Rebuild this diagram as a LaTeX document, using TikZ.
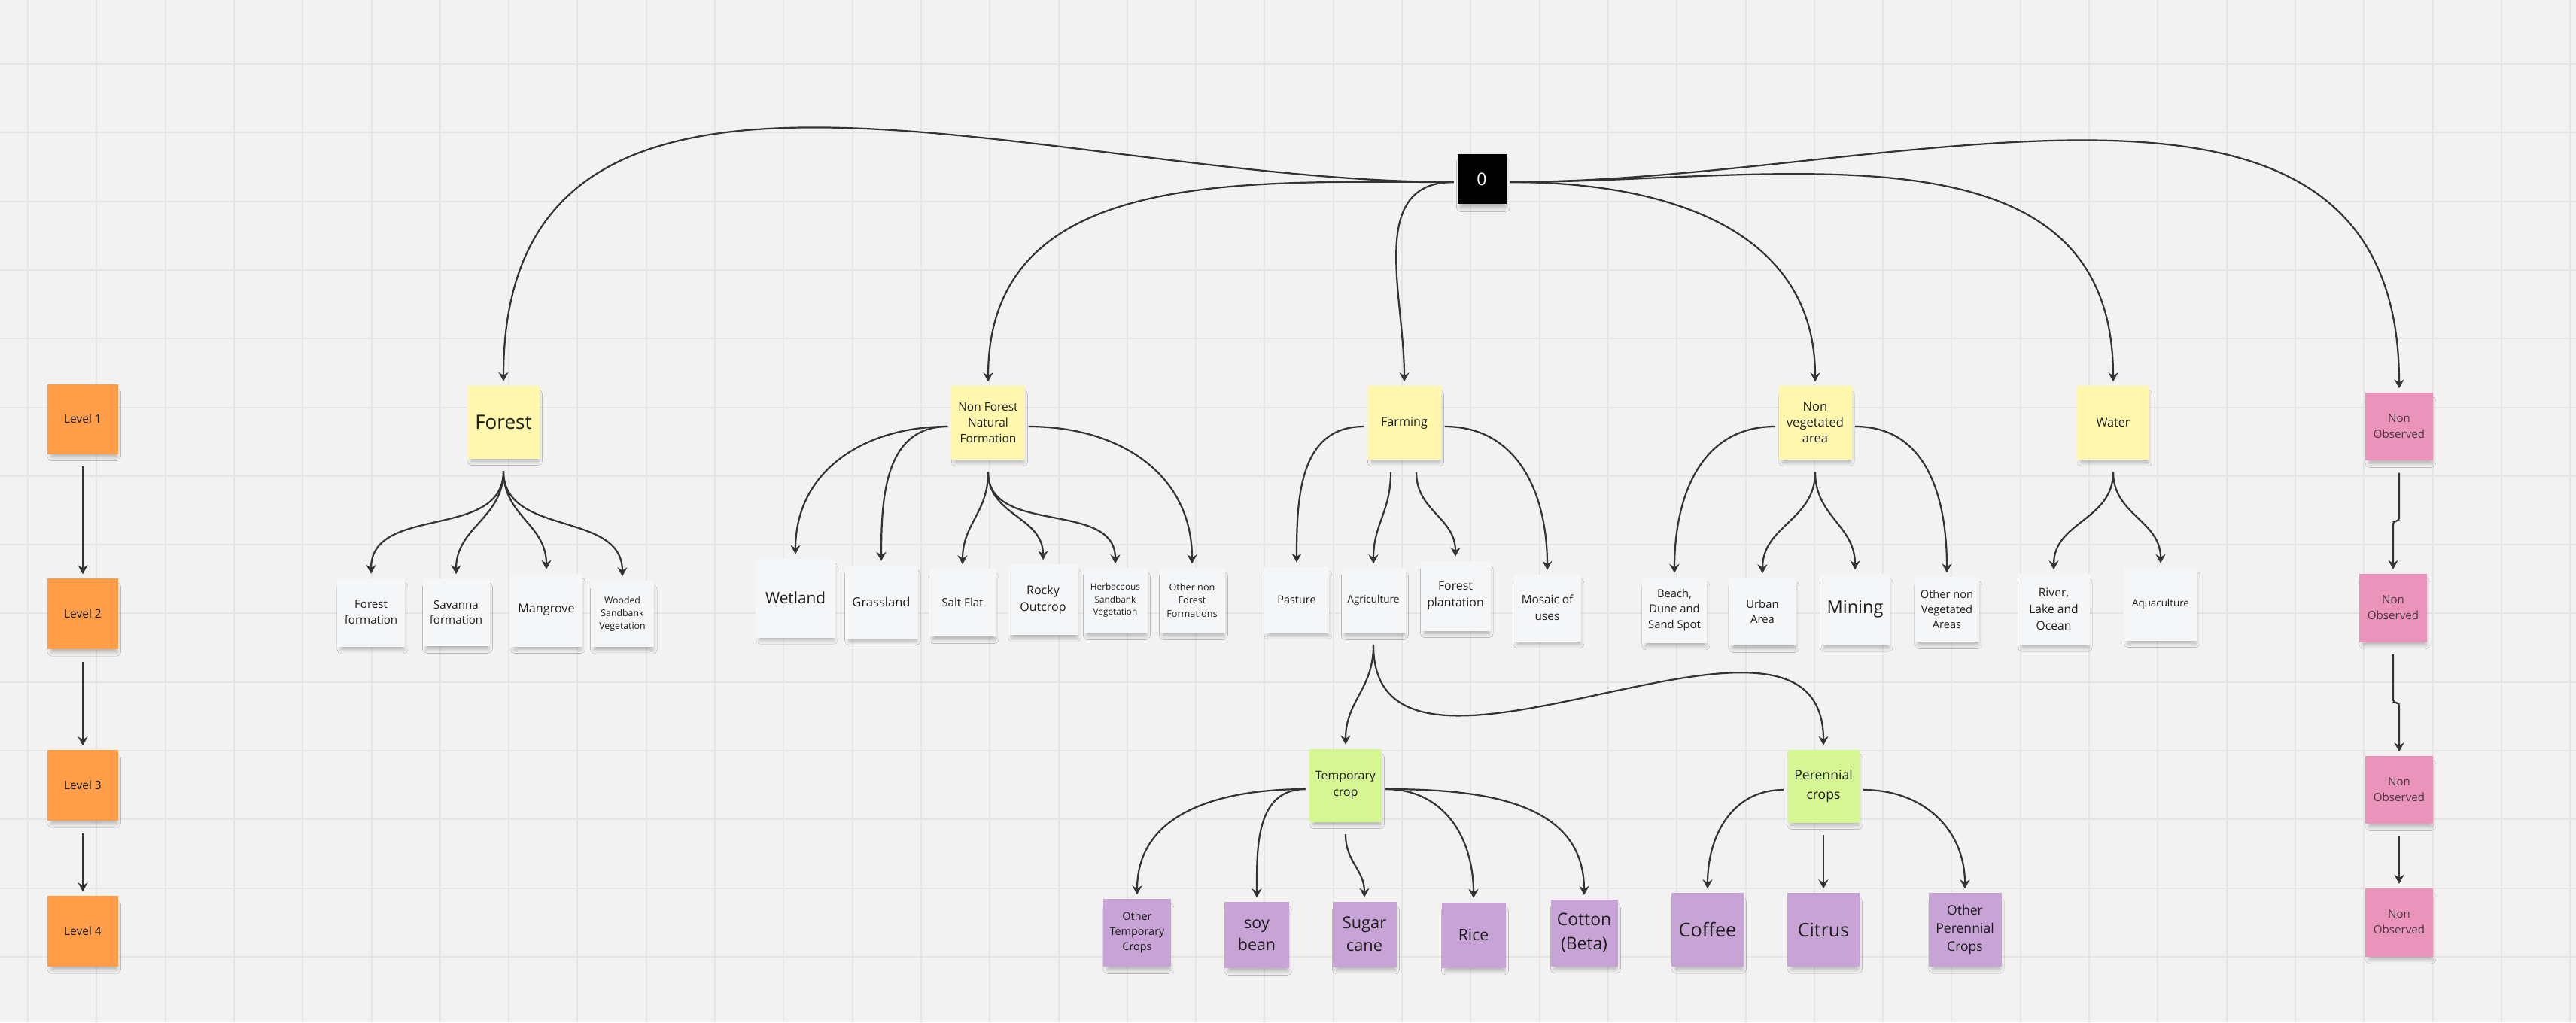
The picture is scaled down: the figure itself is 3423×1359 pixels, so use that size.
\documentclass[tikz,border=0pt]{standalone}
\usepackage{fontspec}
\setmainfont{Open Sans}
\usetikzlibrary{arrows.meta,calc,shadows.blur}

\definecolor{bg}{HTML}{F2F2F2}
\definecolor{gridc}{HTML}{E5E5E5}
\definecolor{orangeN}{HTML}{FF9D48}
\definecolor{yellowN}{HTML}{FFF7AE}
\definecolor{whiteN}{HTML}{F5F6F8}
\definecolor{greenN}{HTML}{D5F692}
\definecolor{violetN}{HTML}{C8A4D6}
\definecolor{pinkN}{HTML}{EA94BB}
\definecolor{ink}{HTML}{1E1E1E}
\definecolor{pinkink}{HTML}{4A3845}
\definecolor{wirec}{HTML}{333333}

% curved connectors: leave downwards / leftwards / rightwards, arrive from above
\newcommand\dn[3]{\draw[link] #1 .. controls +(0,#3) and +(0,-#3) .. #2;}
\newcommand\lf[3]{\draw[link] #1 .. controls +(-#3,0) and +(0,-#3) .. #2;}
\newcommand\rt[3]{\draw[link] #1 .. controls +(#3,0) and +(0,-#3) .. #2;}

\begin{document}
\begin{tikzpicture}[x=0.01cm,y=-0.01cm,
  note/.style 2 args={rectangle, inner sep=0pt, align=center, text=ink,
    minimum width=#1*0.01cm, minimum height=#2*0.01cm,
    blur shadow={shadow xshift=0.02cm, shadow yshift=-0.08cm,
      shadow blur radius=0.06cm, shadow opacity=28, shadow scale=0.92}},
  fz/.style 2 args={font=\fontsize{#1pt}{#2pt}\selectfont},
  lvl/.style={fill=orangeN},
  top/.style={fill=yellowN},
  sub/.style={fill=whiteN},
  crop/.style={fill=greenN},
  leaf/.style={fill=violetN},
  nobs/.style={fill=pinkN, text=pinkink},
  link/.style={draw=wirec, line width=0.022cm,
    -{Stealth[length=0.12cm, width=0.13cm, inset=0.04cm]}},
]
% canvas and grid
\fill[bg] (0,0) rectangle (3423,1359);
\useasboundingbox (0,0) rectangle (3423,1359);
\foreach \i in {0,...,37}
  \draw[gridc, line width=0.02cm] ({37+91.3*\i},0) -- ({37+91.3*\i},1359);
\foreach \j in {0,...,14}
  \draw[gridc, line width=0.02cm] (0,{85+91.3*\j}) -- (3423,{85+91.3*\j});

% level legend
\node[note={94}{93}, lvl, fz={4.4}{6}] (lv1) at (110,557) {Level 1};
\node[note={94}{94}, lvl, fz={4.4}{6}] (lv2) at (110,816) {Level 2};
\node[note={94}{94}, lvl, fz={4.4}{6}] (lv3) at (110,1044) {Level 3};
\node[note={94}{94}, lvl, fz={4.4}{6}] (lv4) at (110,1238) {Level 4};

% root
\node[note={65}{66}, fill=black, text=white, fz={6.5}{8}] (root) at (1969,238) {0};

% level 1
\node[note={96}{97}, top, fz={7.4}{9}] (forest) at (669,561) {Forest};
\node[note={98}{98}, top, fz={4.4}{6}] (nfnf) at (1313,562) {Non Forest\\Natural\\Formation};
\node[note={98}{98}, top, fz={4.6}{6}] (farm) at (1866,562) {Farming};
\node[note={97}{98}, top, fz={4.7}{6}] (nveg) at (2412,562) {Non\\vegetated\\area};
\node[note={96}{98}, top, fz={4.6}{6}] (water) at (2808,562) {Water};
\node[note={90}{90}, nobs, fz={4.3}{5.9}] (no1) at (3188,567) {Non\\Observed};

% level 2
\node[note={90}{91}, sub, fz={4.3}{5.9}] (ff) at (493,814) {Forest\\formation};
\node[note={89}{90}, sub, fz={4.3}{5.9}] (sf) at (606,814) {Savanna\\formation};
\node[note={96}{97}, sub, fz={4.6}{6}] (mg) at (726,811) {Mangrove};
\node[note={84}{88}, sub, fz={3.5}{4.8}] (wsv) at (827,816) {Wooded\\Sandbank\\Vegetation};
\node[note={106}{105}, sub, fz={5.9}{7}] (wet) at (1057,795) {Wetland};
\node[note={97}{97}, sub, fz={4.7}{6}] (gra) at (1171,800) {Grassland};
\node[note={89}{90}, sub, fz={4.3}{6}] (slt) at (1279,801) {Salt Flat};
\node[note={93}{94}, sub, fz={4.55}{6.2}] (roc) at (1386,797) {Rocky\\Outcrop};
\node[note={85}{86}, sub, fz={3.35}{4.75}] (hsv) at (1482,798) {Herbaceous\\Sandbank\\Vegetation};
\node[note={87}{86}, sub, fz={3.6}{5}] (onf) at (1584,798) {Other non\\Forest\\Formations};
\node[note={86}{87}, sub, fz={4.1}{6}] (pas) at (1723,797) {Pasture};
\node[note={85}{86}, sub, fz={3.85}{6}] (agr) at (1825,798) {Agriculture};
\node[note={93}{93}, sub, fz={4.5}{6.2}] (fpl) at (1934,792) {Forest\\plantation};
\node[note={90}{89}, sub, fz={4.35}{6.3}] (mos) at (2056,808) {Mosaic of\\uses};
\node[note={86}{87}, sub, fz={4.2}{5.9}] (bch) at (2225,811) {Beach,\\Dune and\\Sand Spot};
\node[note={90}{90}, sub, fz={4.2}{5.9}] (urb) at (2342,813) {Urban\\Area};
\node[note={93}{94}, sub, fz={6.7}{8}] (min) at (2465,810) {Mining};
\node[note={86}{86}, sub, fz={4.15}{5.8}] (onv) at (2587,810) {Other non\\Vegetated\\Areas};
\node[note={95}{94}, sub, fz={4.45}{6.2}] (riv) at (2729,810) {River,\\Lake and\\Ocean};
\node[note={98}{97}, sub, fz={3.8}{6}] (aqu) at (2871,803) {Aquaculture};
\node[note={90}{91}, nobs, fz={4.3}{5.9}] (no2) at (3180,808) {Non\\Observed};

% level 3
\node[note={96}{97}, crop, fz={4.5}{6.2}] (tmp) at (1788,1044) {Temporary\\crop};
\node[note={97}{97}, crop, fz={5}{7.4}] (per) at (2423,1045) {Perennial\\crops};
\node[note={90}{90}, nobs, fz={4.3}{5.9}] (no3) at (3188,1050) {Non\\Observed};

% level 4
\node[note={90}{90}, leaf, fz={4.1}{5.7}] (otc) at (1511,1240) {Other\\Temporary\\Crops};
\node[note={86}{88}, leaf, fz={6.1}{8.25}] (soy) at (1670,1243) {soy\\bean};
\node[note={85}{87}, leaf, fz={6.2}{8.5}] (sug) at (1813,1242) {Sugar\\cane};
\node[note={85}{87}, leaf, fz={6}{8}] (ric) at (1958,1243) {Rice};
\node[note={89}{89}, leaf, fz={6.5}{9.1}] (cot) at (2105,1240) {Cotton\\(Beta)};
\node[note={96}{98}, leaf, fz={7.2}{9}] (cof) at (2269,1236) {Coffee};
\node[note={96}{98}, leaf, fz={7.1}{9}] (cit) at (2423,1236) {Citrus};
\node[note={97}{98}, leaf, fz={5}{6.8}] (opc) at (2611,1236) {Other\\Perennial\\Crops};
\node[note={90}{91}, nobs, fz={4.3}{5.9}] (no4) at (3188,1226) {Non\\Observed};

% arrow end points just above each note
\foreach \n in {lv2,lv3,lv4,forest,nfnf,farm,nveg,water,no1,no2,no3,no4,
  ff,sf,mg,wsv,wet,gra,slt,roc,hsv,onf,pas,agr,fpl,mos,bch,urb,min,onv,riv,aqu,
  tmp,per,otc,soy,sug,ric,cot,cof,cit,opc}
  \coordinate (\n-t) at ($(\n.north)+(0,-5)$);
% start points below / beside each parent
\foreach \n in {lv1,lv2,lv3,forest,nfnf,nveg,water,agr,tmp,per,no1,no2,no3}
  \coordinate (\n-b) at ($(\n.south)+(0,16)$);
\foreach \n in {nfnf,farm,nveg,tmp,per} {
  \coordinate (\n-l) at ($(\n.west)+(-4,5)$);
  \coordinate (\n-r) at ($(\n.east)+(4,5)$);
}
\coordinate (root-l) at ($(root.west)+(-4,4)$);
\coordinate (root-r) at ($(root.east)+(4,4)$);
\coordinate (farm-b1) at ($(farm.south)+(-18,16)$);
\coordinate (farm-b2) at ($(farm.south)+(16,16)$);

% legend arrows
\draw[link] (lv1-b) -- (lv2-t);
\draw[link] (lv2-b) -- (lv3-t);
\draw[link] (lv3-b) -- (lv4-t);

% root to level 1
\lf{(root-l)}{(forest-t)}{544}
\lf{(root-l)}{(nfnf-t)}{285}
\lf{(root-l)}{(farm-t)}{116}
\rt{(root-r)}{(nveg-t)}{205}
\rt{(root-r)}{(water-t)}{357}
\rt{(root-r)}{(no1-t)}{511}

% forest
\dn{(forest-b)}{(ff-t)}{93}
\dn{(forest-b)}{(sf-t)}{63}
\dn{(forest-b)}{(mg-t)}{60}
\dn{(forest-b)}{(wsv-t)}{88}

% non forest natural formation
\lf{(nfnf-l)}{(wet-t)}{111}
\lf{(nfnf-l)}{(gra-t)}{84}
\dn{(nfnf-b)}{(slt-t)}{54}
\dn{(nfnf-b)}{(roc-t)}{58}
\dn{(nfnf-b)}{(hsv-t)}{85}
\rt{(nfnf-r)}{(onf-t)}{120}

% farming
\lf{(farm-l)}{(pas-t)}{86}
\dn{(farm-b1)}{(agr-t)}{53}
\dn{(farm-b2)}{(fpl-t)}{52}
\rt{(farm-r)}{(mos-t)}{99}

% non vegetated area
\lf{(nveg-l)}{(bch-t)}{100}
\dn{(nveg-b)}{(urb-t)}{64}
\dn{(nveg-b)}{(min-t)}{59}
\rt{(nveg-r)}{(onv-t)}{97}

% water
\dn{(water-b)}{(riv-t)}{64}
\dn{(water-b)}{(aqu-t)}{57}

% agriculture
\dn{(agr-b)}{(tmp-t)}{59}
\dn{(agr-b)}{(per-t)}{257}

% temporary crop
\lf{(tmp-l)}{(otc-t)}{111}
\lf{(tmp-l)}{(soy-t)}{67}
\dn{(tmp-b)}{(sug-t)}{37}
\rt{(tmp-r)}{(ric-t)}{79}
\rt{(tmp-r)}{(cot-t)}{126}

% perennial crops
\lf{(per-l)}{(cof-t)}{69}
\draw[link] (per-b) -- (cit-t);
\rt{(per-r)}{(opc-t)}{79}

% non observed chain
\draw[link, rounded corners=0.04cm] (no1-b) -- ++(0,64) -| (no2-t);
\draw[link, rounded corners=0.04cm] (no2-b) -- ++(0,64) -| (no3-t);
\draw[link] (no3-b) -- (no4-t);
\end{tikzpicture}
\end{document}
